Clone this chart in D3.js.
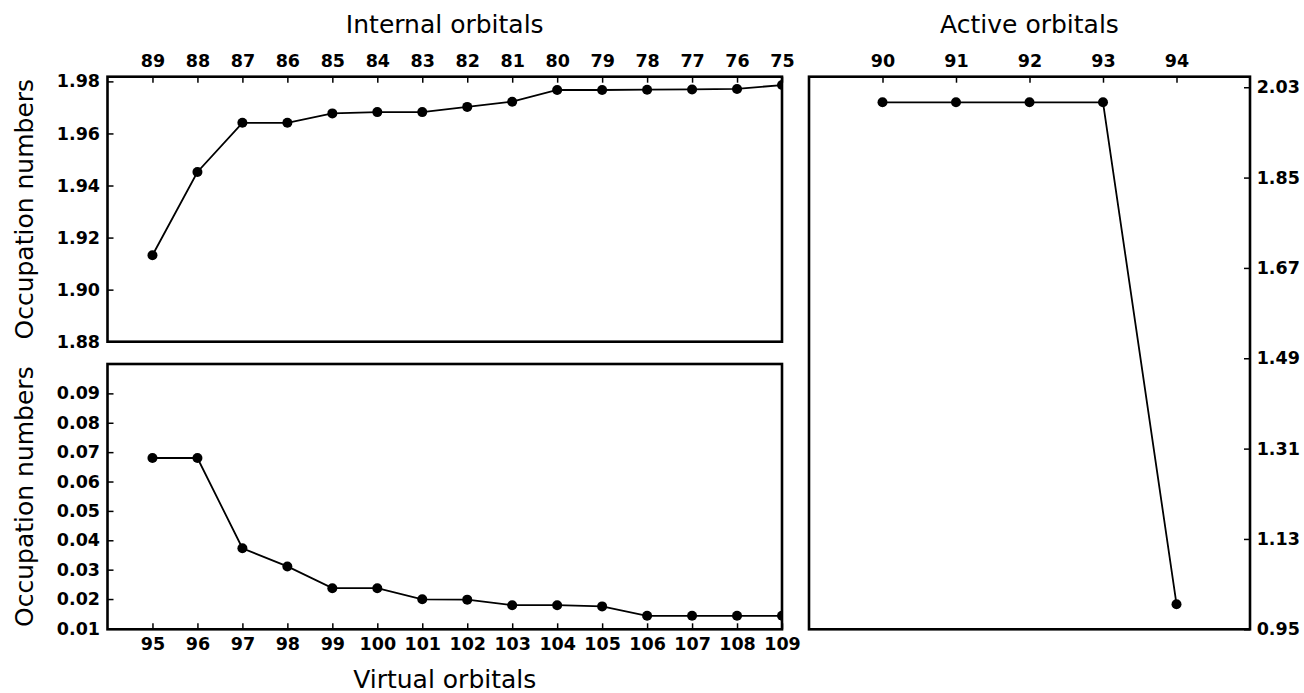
<!DOCTYPE html>
<html>
<head>
<meta charset="utf-8">
<script src="https://cdn.jsdelivr.net/npm/d3@7"></script>
<style>
  html, body { margin: 0; padding: 0; background: #fff; }
  svg { display: block; font-family: "DejaVu Sans", sans-serif; }
</style>
</head>
<body>
<svg id="chart" width="1304" height="693"></svg>
<script>
// ---- data ----
const internalOrbitals = [89, 88, 87, 86, 85, 84, 83, 82, 81, 80, 79, 78, 77, 76, 75];
const internalOcc = [1.9132, 1.9452, 1.9641, 1.9641, 1.9677, 1.9682, 1.9682, 1.9702, 1.9722, 1.9767, 1.9767, 1.9768, 1.9769, 1.9771, 1.9786];
const internalYTicks = [1.88, 1.90, 1.92, 1.94, 1.96, 1.98];

const virtualOrbitals = [95, 96, 97, 98, 99, 100, 101, 102, 103, 104, 105, 106, 107, 108, 109];
const virtualOcc = [0.0680, 0.0680, 0.0373, 0.0311, 0.0237, 0.0237, 0.0199, 0.0198, 0.0179, 0.0179, 0.0175, 0.0143, 0.0143, 0.0143, 0.0143];
const virtualYTicks = [0.01, 0.02, 0.03, 0.04, 0.05, 0.06, 0.07, 0.08, 0.09];

const activeOrbitals = [90, 91, 92, 93, 94];
const activeOcc = [2.000, 2.000, 2.000, 2.000, 1.000];
const activeYTicks = [0.95, 1.13, 1.31, 1.49, 1.67, 1.85, 2.03];

const labels = {
  internal: "Internal orbitals",
  virtual: "Virtual orbitals",
  active: "Active orbitals",
  occ: "Occupation numbers"
};

// ---- layout ----
const svg = d3.select("#chart");
const tickFont = 17.5, labelFont = 25;

const L = { x0: 107.5, x1: 782 };
const TOP = { y0: 76.7, y1: 341.7 };
const BOT = { y0: 364, y1: 629.3 };
const R = { x0: 809, x1: 1250, y0: 76.7, y1: 629.3 };

const xTop = d3.scaleLinear().domain([90, 75]).range([L.x0, L.x1]);
const yTop = d3.scaleLinear().domain([1.88, 1.9818]).range([TOP.y1, TOP.y0]);
const xBot = d3.scaleLinear().domain([94, 109]).range([L.x0, L.x1]);
const yBot = d3.scaleLinear().domain([0.0097, 0.1]).range([BOT.y1, BOT.y0]);
const xAct = d3.scaleLinear().domain([89, 95]).range([R.x0, R.x1]);
const yAct = d3.scaleLinear().domain([0.95, 2.051]).range([R.y1, R.y0]);

const defs = svg.append("defs");
function clip(id, x0, y0, x1, y1) {
  defs.append("clipPath").attr("id", id).append("rect")
    .attr("x", x0).attr("y", y0).attr("width", x1 - x0).attr("height", y1 - y0);
}
clip("cTop", L.x0, TOP.y0, L.x1, TOP.y1);
clip("cBot", L.x0, BOT.y0, L.x1, BOT.y1);
clip("cAct", R.x0, R.y0, R.x1, R.y1);

function styleAxis(g) {
  g.select(".domain").remove();
  g.selectAll(".tick line").attr("stroke", "#000").attr("stroke-width", 1.5);
  g.selectAll(".tick text").attr("fill", "#000")
    .style("font-size", tickFont + "px").style("font-weight", "bold")
    .style("font-family", "'DejaVu Sans', sans-serif");
}

function series(xs, ys, x, y, clipId) {
  const pts = xs.map((d, i) => [d, ys[i]]);
  const g = svg.append("g").attr("clip-path", `url(#${clipId})`);
  g.append("path").datum(pts)
    .attr("fill", "none").attr("stroke", "#000").attr("stroke-width", 1.8)
    .attr("d", d3.line().x(d => x(d[0])).y(d => y(d[1])));
  g.selectAll("circle").data(pts).join("circle")
    .attr("cx", d => x(d[0])).attr("cy", d => y(d[1])).attr("r", 5).attr("fill", "#000");
}

function frame(x0, y0, x1, y1) {
  svg.append("rect").attr("x", x0).attr("y", y0).attr("width", x1 - x0).attr("height", y1 - y0)
    .attr("fill", "none").attr("stroke", "#000").attr("stroke-width", 2.6);
}

// ---- top-left: internal ----
svg.append("g").attr("transform", `translate(0,${TOP.y0})`)
  .call(d3.axisTop(xTop).tickValues(internalOrbitals).tickSize(-6).tickPadding(10).tickFormat(d3.format("d")))
  .call(styleAxis);
svg.append("g").attr("transform", `translate(${L.x0},0)`)
  .call(d3.axisLeft(yTop).tickValues(internalYTicks).tickSize(-6).tickPadding(7.5).tickFormat(d3.format(".2f")))
  .call(styleAxis);
series(internalOrbitals, internalOcc, xTop, yTop, "cTop");
frame(L.x0, TOP.y0, L.x1, TOP.y1);

// ---- bottom-left: virtual ----
svg.append("g").attr("transform", `translate(0,${BOT.y1})`)
  .call(d3.axisBottom(xBot).tickValues(virtualOrbitals).tickSize(-6).tickPadding(8).tickFormat(d3.format("d")))
  .call(styleAxis);
svg.append("g").attr("transform", `translate(${L.x0},0)`)
  .call(d3.axisLeft(yBot).tickValues(virtualYTicks).tickSize(-6).tickPadding(7.5).tickFormat(d3.format(".2f")))
  .call(styleAxis);
series(virtualOrbitals, virtualOcc, xBot, yBot, "cBot");
frame(L.x0, BOT.y0, L.x1, BOT.y1);

// ---- right: active ----
svg.append("g").attr("transform", `translate(0,${R.y0})`)
  .call(d3.axisTop(xAct).tickValues(activeOrbitals).tickSize(-6).tickPadding(10).tickFormat(d3.format("d")))
  .call(styleAxis);
svg.append("g").attr("transform", `translate(${R.x1},0)`)
  .call(d3.axisRight(yAct).tickValues(activeYTicks).tickSize(-6).tickPadding(6.7).tickFormat(d3.format(".2f")))
  .call(styleAxis);
series(activeOrbitals, activeOcc, xAct, yAct, "cAct");
frame(R.x0, R.y0, R.x1, R.y1);

// ---- labels ----
function label(text, x, y, rot) {
  const t = svg.append("text").text(text)
    .attr("text-anchor", "middle").attr("fill", "#000")
    .style("font-size", labelFont + "px").style("font-weight", "normal");
  if (rot) t.attr("transform", `translate(${x},${y}) rotate(-90)`);
  else t.attr("x", x).attr("y", y);
}
label(labels.internal, (L.x0 + L.x1) / 2, 33.3);
label(labels.active, (R.x0 + R.x1) / 2, 33.3);
label(labels.virtual, (L.x0 + L.x1) / 2, 687.5);
label(labels.occ, 33, (TOP.y0 + TOP.y1) / 2, true);
label(labels.occ, 33, (BOT.y0 + BOT.y1) / 2, true);
</script>
</body>
</html>
